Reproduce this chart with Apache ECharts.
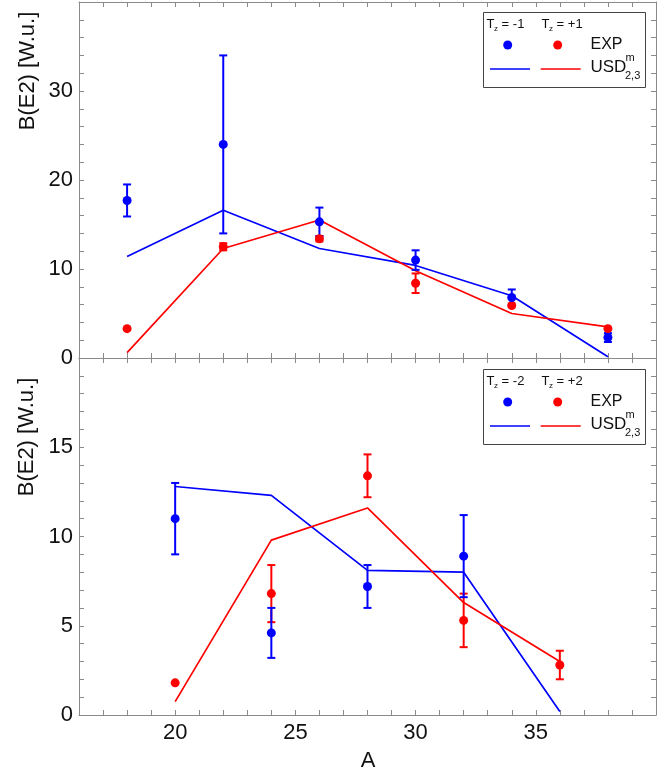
<!DOCTYPE html>
<html>
<head>
<meta charset="utf-8">
<script src="https://cdn.jsdelivr.net/npm/echarts@6/dist/echarts.min.js"></script>
<style>
html,body{margin:0;padding:0;background:#fff;}
#c{width:670px;height:774px;}
</style>
</head>
<body>
<div id="c"></div>
<script>
// ---------- data ----------
const A_top = [18, 22, 26, 30, 34, 38];
const expNeg1 = [17.7, 24.0, 15.3, 11.0, 6.8, 2.3];
const errNeg1 = [1.8, 10.0, 1.6, 1.1, 0.9, 0.5];
const expPos1 = [3.3, 12.5, 13.4, 8.4, 5.9, 3.3];
const errPos1 = [0, 0.4, 0.3, 1.1, 0, 0];
const usdNeg1 = [11.4, 16.6, 12.3, 10.4, 7.0, 0.15];
const usdPos1 = [0.6, 12.3, 15.5, 9.8, 5.0, 3.5];

const A_bot = [20, 24, 28, 32, 36];
const A_botNegExp = [20, 24, 28, 32];
const expNeg2 = [11.0, 4.6, 7.2, 8.9];
const errNeg2 = [2.0, 1.4, 1.2, 2.3];
const expPos2 = [1.8, 6.8, 13.4, 5.3, 2.8];
const errPos2 = [0, 1.6, 1.2, 1.5, 0.8];
const usdNeg2 = [12.8, 12.3, 8.1, 8.0, 0.2];
const usdPos2 = [0.75, 9.8, 11.6, 6.3, 3.0];

const xTickLabels = [20, 25, 30, 35];
const yTopLabels = [0, 10, 20, 30];
const yBotLabels = [0, 5, 10, 15];
const legendTop = ['T', 'z', ' = -1', 'T', 'z', ' = +1'];
const legendBot = ['T', 'z', ' = -2', 'T', 'z', ' = +2'];

// ---------- helpers ----------
const BLUE = '#0000ff', RED = '#ff0000';
const FONT = '"Liberation Sans", Arial, Helvetica, sans-serif';
const AXC = '#8a8a8a';

const pairs = (xs, ys) => xs.map((x, i) => [x, ys[i]]);
const errs = (xs, ys, es) => xs.map((x, i) => [x, ys[i] - es[i], ys[i] + es[i]]).filter((d, i) => es[i] > 0);

function errRender(params, api) {
  const x = api.value(0), lo = api.value(1), hi = api.value(2);
  const a = api.coord([x, hi]), b = api.coord([x, lo]);
  const hw = 4;
  const st = { stroke: api.visual('color'), lineWidth: 2 };
  return {
    type: 'group',
    children: [
      { type: 'line', shape: { x1: a[0], y1: a[1], x2: b[0], y2: b[1] }, style: st },
      { type: 'line', shape: { x1: a[0] - hw, y1: a[1], x2: a[0] + hw, y2: a[1] }, style: st },
      { type: 'line', shape: { x1: b[0] - hw, y1: b[1], x2: b[0] + hw, y2: b[1] }, style: st }
    ]
  };
}

function xAx(grid, pos, showLabels) {
  return {
    type: 'value', gridIndex: grid, position: pos, min: 16, max: 40, interval: 1,
    axisLine: { show: true, onZero: false, lineStyle: { color: AXC, width: 1 } },
    axisTick: { show: true, inside: true, length: 5, lineStyle: { color: AXC } },
    splitLine: { show: false },
    axisLabel: {
      show: showLabels, interval: 0, margin: 7, color: '#111', fontSize: 22, fontFamily: FONT,
      formatter: v => (xTickLabels.indexOf(v) >= 0 ? String(v) : '')
    }
  };
}
function yAx(grid, pos, max, interval, labels, showLabels) {
  return {
    type: 'value', gridIndex: grid, position: pos, min: 0, max: max, interval: interval,
    axisLine: { show: true, onZero: false, lineStyle: { color: AXC, width: 1 } },
    axisTick: { show: true, inside: true, length: 5, lineStyle: { color: AXC } },
    splitLine: { show: false },
    axisLabel: {
      show: showLabels, margin: 6, color: '#111', fontSize: 22, fontFamily: FONT,
      formatter: v => (labels.indexOf(v) >= 0 ? String(v) : '')
    }
  };
}

function legend(dy, txt) {
  const g = [];
  g.push({ type: 'rect', shape: { x: 483.5, y: 12.5 + dy, width: 162, height: 75 },
    style: { fill: '#fff', stroke: '#444', lineWidth: 1 }, z: 100 });
  const f13 = '13px ' + FONT, f8 = '8px ' + FONT;
  [[486.5, 0], [541.5, 3]].forEach(([x0, k]) => {
    g.push({ type: 'text', x: x0, y: 24.5 + dy, z: 101, style: { text: txt[k], font: f13, fill: '#111', align: 'left', verticalAlign: 'middle' } });
    g.push({ type: 'text', x: x0 + 7.6, y: 28.5 + dy, z: 101, style: { text: txt[k + 1], font: f8, fill: '#111', align: 'left', verticalAlign: 'middle' } });
    g.push({ type: 'text', x: x0 + 11.5, y: 24.5 + dy, z: 101, style: { text: txt[k + 2], font: f13, fill: '#111', align: 'left', verticalAlign: 'middle' } });
  });
  g.push({ type: 'circle', shape: { cx: 507.7, cy: 45 + dy, r: 4.5 }, style: { fill: BLUE }, z: 101 });
  g.push({ type: 'circle', shape: { cx: 557.7, cy: 45 + dy, r: 4.5 }, style: { fill: RED }, z: 101 });
  g.push({ type: 'text', x: 590.5, y: 45 + dy, z: 101, style: { text: 'EXP', font: '16px ' + FONT, fill: '#111', align: 'left', verticalAlign: 'middle' } });
  g.push({ type: 'line', shape: { x1: 490, y1: 69 + dy, x2: 530, y2: 69 + dy }, style: { stroke: BLUE, lineWidth: 1.6 }, z: 101 });
  g.push({ type: 'line', shape: { x1: 540.7, y1: 69 + dy, x2: 580.7, y2: 69 + dy }, style: { stroke: RED, lineWidth: 1.6 }, z: 101 });
  g.push({ type: 'text', x: 590.5, y: 67 + dy, z: 101, style: { text: 'USD', font: '17px ' + FONT, fill: '#111', align: 'left', verticalAlign: 'middle' } });
  g.push({ type: 'text', x: 625.5, y: 57.5 + dy, z: 101, style: { text: 'm', font: '11px ' + FONT, fill: '#111', align: 'left', verticalAlign: 'middle' } });
  g.push({ type: 'text', x: 625, y: 76 + dy, z: 101, style: { text: '2,3', font: '11px ' + FONT, fill: '#111', align: 'left', verticalAlign: 'middle' } });
  return g;
}

const graphics = [].concat(
  legend(0, legendTop),
  legend(357, legendBot),
  [
    { type: 'text', x: 28, y: 71, rotation: Math.PI / 2, z: 101,
      style: { text: 'B(E2) [W.u.]', font: '22px ' + FONT, fill: '#111', align: 'center', verticalAlign: 'middle' } },
    { type: 'text', x: 27, y: 437, rotation: Math.PI / 2, z: 101,
      style: { text: 'B(E2) [W.u.]', font: '22px ' + FONT, fill: '#111', align: 'center', verticalAlign: 'middle' } },
    { type: 'text', x: 368, y: 761, z: 101,
      style: { text: 'A', font: '22px ' + FONT, fill: '#111', align: 'center', verticalAlign: 'middle' } }
  ]
);

function lineS(xi, yi, data, color) {
  return { type: 'line', xAxisIndex: xi, yAxisIndex: yi, data: data, showSymbol: false, symbol: 'none',
    lineStyle: { color: color, width: 1.7 }, itemStyle: { color: color }, z: 2, animation: false };
}
function scatS(xi, yi, data, color) {
  return { type: 'scatter', xAxisIndex: xi, yAxisIndex: yi, data: data, symbolSize: 9,
    itemStyle: { color: color, opacity: 1 }, z: 4, animation: false };
}
function errS(xi, yi, data, color) {
  return { type: 'custom', xAxisIndex: xi, yAxisIndex: yi, data: data, renderItem: errRender,
    encode: { x: 0, y: [1, 2] }, itemStyle: { color: color }, z: 3, animation: false };
}

const chart = echarts.init(document.getElementById('c'), null, { renderer: 'canvas' });
chart.setOption({
  backgroundColor: '#fff',
  animation: false,
  grid: [
    { left: 79, top: 2, width: 577, height: 356 },
    { left: 79, top: 358, width: 577, height: 357 }
  ],
  xAxis: [
    xAx(0, 'bottom', false),
    xAx(0, 'top', false),
    xAx(1, 'bottom', true),
    xAx(1, 'top', false)
  ],
  yAxis: [
    yAx(0, 'left', 40, 2, yTopLabels, true),
    yAx(0, 'right', 40, 2, yTopLabels, false),
    yAx(1, 'left', 20, 1, yBotLabels, true),
    yAx(1, 'right', 20, 1, yBotLabels, false)
  ],
  graphic: graphics,
  series: [
    lineS(0, 0, pairs(A_top, usdNeg1), BLUE),
    lineS(0, 0, pairs(A_top, usdPos1), RED),
    errS(0, 0, errs(A_top, expPos1, errPos1), RED),
    errS(0, 0, errs(A_top, expNeg1, errNeg1), BLUE),
    scatS(0, 0, pairs(A_top, expPos1), RED),
    scatS(0, 0, pairs(A_top, expNeg1), BLUE),

    lineS(2, 2, pairs(A_bot, usdNeg2), BLUE),
    lineS(2, 2, pairs(A_bot, usdPos2), RED),
    errS(2, 2, errs(A_bot, expPos2, errPos2), RED),
    errS(2, 2, errs(A_botNegExp, expNeg2, errNeg2), BLUE),
    scatS(2, 2, pairs(A_bot, expPos2), RED),
    scatS(2, 2, pairs(A_botNegExp, expNeg2), BLUE)
  ]
});
</script>
</body>
</html>
